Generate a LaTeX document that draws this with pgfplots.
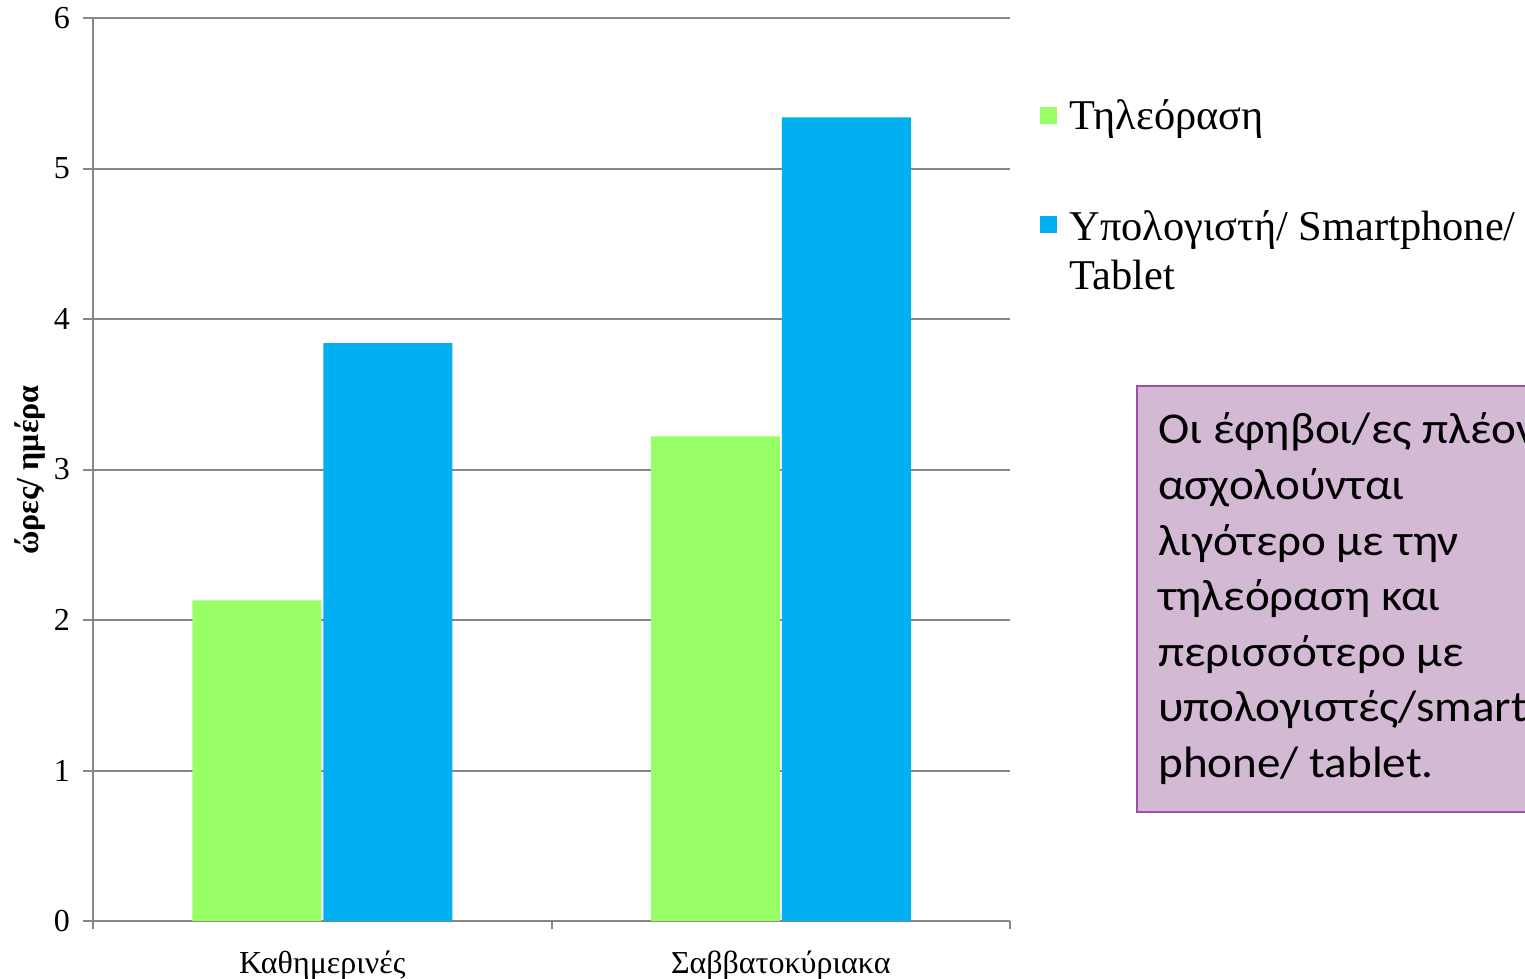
\documentclass[border=0pt]{standalone}
\usepackage{fontspec}
\setmainfont{Liberation Serif}
\newfontfamily\boxfont[FakeStretch=1.07]{Carlito}
\usepackage{pgfplots}
\pgfplotsset{compat=1.18}

\definecolor{tvgreen}{RGB}{153,255,102}
\definecolor{pcblue}{RGB}{0,176,240}
\definecolor{axgrey}{RGB}{134,134,134}
\definecolor{boxfill}{RGB}{211,185,212}
\definecolor{boxedge}{RGB}{160,80,168}

\begin{document}
\begin{tikzpicture}
\useasboundingbox (-46.5pt,-29pt) rectangle (716pt,460.5pt);
\begin{axis}[
  scale only axis, width=458.5pt, height=451.5pt,
  at={(0,0)}, anchor=south west,
  ybar=1pt, bar width=64.5pt,
  xmin=-0.5, xmax=1.5, ymin=0, ymax=6,
  xtick={0,1},
  xticklabels={Καθημερινές, Σαββατοκύριακα},
  minor xtick={-0.5,0.5,1.5},
  ytick={0,1,2,3,4,5,6},
  axis x line*=bottom, axis y line*=left,
  axis line style={axgrey, line width=1pt},
  tick align=outside,
  major tick length=5pt, minor tick length=4pt,
  major x tick style={draw=none},
  every tick/.style={axgrey, line width=1pt},
  ymajorgrids, major grid style={axgrey, line width=1pt},
  /pgf/number format/assume math mode=true,
  tick label style={font=\fontsize{16}{19}\selectfont},
  yticklabel style={xshift=-3pt},
  xticklabel style={yshift=-6.5pt},
  ylabel={ώρες/ ημέρα},
  ylabel style={font=\bfseries\fontsize{16}{19}\selectfont,
    at={(axis description cs:-0.0687,0.4994)}, anchor=center},
  legend style={at={(axis description cs:1.0327,0.9147)}, anchor=north west,
    draw=none, fill=none, inner sep=0pt,
    font=\fontsize{21.2}{24.5}\selectfont, row sep=33pt, column sep=4pt},
  legend cell align=left,
  legend image code/.code={\fill[#1] (0pt,-4.25pt) rectangle (8.5pt,4.25pt);},
]
\addplot[fill=tvgreen, draw=none] coordinates {(0,2.13) (1,3.22)};
\addplot[fill=pcblue, draw=none] coordinates {(0,3.84) (1,5.34)};
\legend{Τηλεόραση, {\begin{tabular}[t]{@{}l@{}}Υπολογιστή/ Smartphone/\\Tablet\end{tabular}}}
\end{axis}
% note box on the right
\filldraw[fill=boxfill, draw=boxedge, line width=1.2pt] (522pt,54.5pt) rectangle (740pt,267.5pt);
\node[anchor=base west, inner sep=0pt, font=\boxfont\fontsize{22}{27.8}\selectfont]
  at (532.5pt,238.5pt) {\parbox[t]{300pt}{Οι έφηβοι/ες πλέον\\ασχολούνται\\λιγότερο με την\\τηλεόραση και\\περισσότερο με\\υπολογιστές/smart\\phone/ tablet.}};
\end{tikzpicture}
\end{document}
